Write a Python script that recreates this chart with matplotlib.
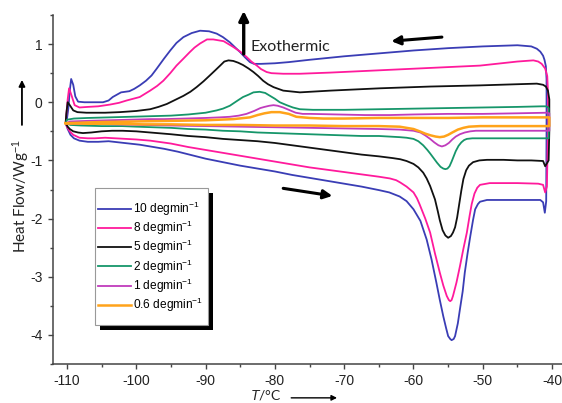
import numpy as np
import matplotlib
matplotlib.use("Agg")
import matplotlib.pyplot as plt
from matplotlib.patches import Rectangle, FancyArrowPatch

plt.rcParams['axes.unicode_minus'] = False
plt.rcParams['mathtext.fontset'] = 'custom'
plt.rcParams['mathtext.rm'] = 'Liberation Sans'
plt.rcParams['mathtext.it'] = 'Liberation Sans:italic'
plt.rcParams['font.family'] = ['Liberation Sans', 'DejaVu Sans']

# ---------------- data (T in °C, heat flow in W/g) ----------------
labels = ["10 degmin$^{-1}$", "8 degmin$^{-1}$", "5 degmin$^{-1}$",
          "2 degmin$^{-1}$", "1 degmin$^{-1}$", "0.6 degmin$^{-1}$"]
colors = ['#3a3db5', '#ff1a9c', '#111111', '#16966a', '#c03cbc', '#ffa31a']

# 10 deg/min
t_heat_10 = [-110.2, -109.9, -109.5, -109.0, -108.2, -107.0, -105.5, -104.0, -102.5, -101.0, -99.5, -98.0,
             -96.0, -94.0, -92.0, -90.0, -87.5, -85.0, -82.5, -80.0, -77.5, -75.0, -72.5, -70.0, -67.5,
             -65.0, -63.5, -62.0, -61.0, -60.0, -59.0, -58.1, -57.4, -56.7, -56.2, -55.7, -55.3, -55.0,
             -54.7, -54.5, -54.2, -54.0, -53.6, -53.3, -52.9, -52.6, -52.2, -51.8, -51.4, -51.1, -50.7,
             -50.4, -49.4, -47.0, -45.0, -43.0, -41.7, -41.3, -41.05]
hf_heat_10 = [-0.36, -0.46, -0.56, -0.62, -0.66, -0.68, -0.68, -0.67, -0.69, -0.71, -0.73, -0.76,
              -0.80, -0.85, -0.91, -0.97, -1.03, -1.09, -1.14, -1.19, -1.25, -1.30, -1.35, -1.40, -1.45,
              -1.51, -1.55, -1.62, -1.70, -1.84, -2.04, -2.36, -2.70, -3.10, -3.40, -3.68, -3.88, -4.02,
              -4.07, -4.09, -4.07, -4.02, -3.80, -3.56, -3.25, -2.93, -2.60, -2.30, -2.02, -1.84, -1.75,
              -1.71, -1.68, -1.68, -1.68, -1.68, -1.68, -1.72, -1.90]
t_cool_10 = [-40.85, -40.8, -40.8, -40.9, -41.1, -41.3, -41.7, -42.2, -43.0, -44.0, -45.0, -50.0, -55.0,
             -60.0, -65.0, -70.0, -75.0, -78.0, -80.0, -82.0, -83.0, -83.6, -84.3, -85.0, -85.8, -86.5,
             -87.5, -88.4, -89.5, -90.8, -92.0, -93.2, -94.2, -95.1, -96.0, -97.1, -97.8, -98.6, -99.5,
             -100.3, -101.0, -101.6, -102.2, -102.8, -103.4, -104.0, -104.8, -106.0, -107.5, -108.4,
             -108.8, -109.1, -109.4, -109.6, -109.8, -110.0, -110.2]
hf_cool_10 = [-1.70, -0.50, 0.40, 0.62, 0.73, 0.80, 0.87, 0.92, 0.96, 0.97, 0.98, 0.96, 0.93,
              0.89, 0.84, 0.79, 0.73, 0.69, 0.67, 0.66, 0.66, 0.69, 0.77, 0.86, 0.95, 1.03,
              1.12, 1.18, 1.22, 1.23, 1.19, 1.12, 1.02, 0.89, 0.75, 0.57, 0.46, 0.37, 0.29,
              0.23, 0.19, 0.18, 0.17, 0.13, 0.09, 0.03, 0.00, 0.00, 0.00, 0.01,
              0.10, 0.30, 0.40, 0.20, -0.10, -0.28, -0.36]

# 8 deg/min
t_heat_8 = [-110.2, -110.0, -109.6, -109.1, -108.2, -107.0, -106.0, -104.5, -103.0, -101.5, -100.0, -98.0,
            -95.0, -92.5, -90.0, -87.5, -85.0, -82.5, -80.0, -77.5, -75.0, -72.5, -70.0, -67.5, -65.0,
            -63.4, -62.5, -61.9, -61.0, -60.0, -59.5, -59.1, -58.3, -57.6, -56.9, -56.2, -55.7, -55.2,
            -54.9, -54.7, -54.5, -54.3, -53.8, -53.3, -52.8, -52.3, -51.9, -51.6, -51.2, -50.8, -50.4,
            -49.0, -48.0, -45.0, -42.0, -41.3, -41.0]
hf_heat_8 = [-0.36, -0.42, -0.50, -0.56, -0.61, -0.62, -0.62, -0.61, -0.62, -0.63, -0.64, -0.66,
             -0.71, -0.77, -0.82, -0.87, -0.92, -0.97, -1.02, -1.07, -1.12, -1.16, -1.20, -1.24, -1.28,
             -1.31, -1.34, -1.38, -1.45, -1.55, -1.65, -1.76, -2.00, -2.24, -2.60, -2.93, -3.15, -3.33,
             -3.40, -3.42, -3.40, -3.33, -3.10, -2.82, -2.52, -2.24, -1.95, -1.75, -1.57, -1.47, -1.42,
             -1.39, -1.39, -1.39, -1.40, -1.42, -1.55]
t_cool_8 = [-40.75, -40.6, -40.6, -40.7, -41.0, -41.5, -42.0, -42.7, -45.0, -50.4, -57.6, -64.8, -72.0,
            -76.4, -78.8, -80.5, -81.2, -82.0, -82.6, -83.4, -84.1, -85.0, -86.0, -87.4, -88.9, -89.8,
            -90.8, -91.6, -92.3, -93.2, -94.2, -95.1, -96.1, -97.0, -98.0, -99.5, -101.4, -102.5,
            -103.8, -105.5, -107.0, -108.2, -108.9, -109.3, -109.7, -109.9, -110.1, -110.2]
hf_cool_8 = [-1.45, -0.50, 0.20, 0.45, 0.58, 0.66, 0.70, 0.72, 0.70, 0.63, 0.59, 0.55, 0.51,
             0.49, 0.49, 0.50, 0.52, 0.57, 0.63, 0.70, 0.78, 0.87, 0.95, 1.05, 1.08, 1.08,
             1.01, 0.94, 0.86, 0.75, 0.63, 0.50, 0.37, 0.28, 0.20, 0.09, 0.03, -0.01,
             -0.04, -0.07, -0.08, -0.09, -0.05, 0.10, 0.24, 0.05, -0.22, -0.36]

# 5 deg/min
t_heat_5 = [-110.2, -109.9, -109.6, -109.1, -108.4, -107.7, -106.5, -105.0, -103.5, -102.0, -100.0, -98.0,
            -95.0, -92.5, -90.0, -87.5, -85.0, -82.5, -80.0, -77.5, -75.0, -72.5, -70.0, -67.5, -65.0,
            -63.0, -61.9, -61.0, -60.0, -59.3, -58.6, -58.1, -57.6, -56.9, -56.5, -56.2, -55.8, -55.4,
            -55.0, -54.6, -54.3, -54.0, -53.7, -53.4, -53.1, -52.8, -52.4, -52.0, -51.4, -50.5, -49.4,
            -47.0, -45.0, -43.0, -41.3, -41.0]
hf_heat_5 = [-0.36, -0.42, -0.46, -0.50, -0.52, -0.53, -0.52, -0.50, -0.49, -0.49, -0.50, -0.52,
             -0.55, -0.58, -0.60, -0.63, -0.65, -0.67, -0.70, -0.74, -0.78, -0.82, -0.86, -0.90, -0.93,
             -0.96, -0.98, -1.01, -1.06, -1.12, -1.21, -1.31, -1.44, -1.67, -1.87, -2.03, -2.20, -2.29,
             -2.33, -2.30, -2.24, -2.15, -1.98, -1.75, -1.52, -1.32, -1.17, -1.09, -1.03, -1.00, -0.99,
             -0.99, -1.00, -1.00, -1.01, -1.10]
t_cool_5 = [-40.5, -40.4, -40.4, -40.6, -40.9, -41.3, -42.2, -45.0, -50.4, -57.6, -64.8, -72.0, -76.4,
            -78.8, -80.2, -81.0, -81.7, -82.4, -83.1, -83.8, -84.6, -85.3, -86.0, -86.7, -87.3, -87.9,
            -88.6, -89.4, -90.3, -91.3, -92.2, -93.2, -94.4, -95.6, -96.8, -98.0, -100.0, -102.4,
            -104.5, -107.2, -108.5, -109.1, -109.6, -109.9, -110.1, -110.2]
hf_cool_5 = [-1.00, -0.50, 0.05, 0.20, 0.27, 0.30, 0.32, 0.31, 0.29, 0.27, 0.24, 0.20, 0.17,
             0.20, 0.26, 0.31, 0.37, 0.45, 0.52, 0.58, 0.64, 0.68, 0.71, 0.72, 0.70, 0.63,
             0.55, 0.46, 0.36, 0.26, 0.18, 0.11, 0.04, -0.03, -0.08, -0.12, -0.15, -0.17,
             -0.18, -0.18, -0.17, -0.14, -0.05, 0.00, -0.20, -0.36]

# 2 deg/min
t_heat_2 = [-110.2, -109.5, -108.0, -105.0, -102.0, -100.0, -97.5, -95.0, -92.5, -90.0, -87.5, -85.0,
            -82.5, -80.0, -77.5, -75.0, -72.5, -70.0, -67.5, -65.0, -62.0, -61.0, -60.0, -59.3, -58.6,
            -58.0, -57.6, -57.1, -56.6, -56.1, -55.7, -55.4, -55.1, -54.8, -54.5, -54.2, -53.9, -53.5,
            -53.1, -52.7, -52.3, -51.5, -50.4, -47.0, -44.0, -41.0]
hf_heat_2 = [-0.36, -0.39, -0.40, -0.41, -0.41, -0.42, -0.43, -0.44, -0.46, -0.47, -0.49, -0.50,
             -0.52, -0.53, -0.54, -0.55, -0.56, -0.57, -0.58, -0.58, -0.60, -0.61, -0.63, -0.67, -0.74,
             -0.82, -0.88, -0.96, -1.04, -1.11, -1.14, -1.15, -1.14, -1.10, -1.02, -0.93, -0.84, -0.75,
             -0.69, -0.65, -0.63, -0.62, -0.62, -0.62, -0.62, -0.62]
t_cool_2 = [-40.5, -40.5, -40.8, -41.5, -45.0, -50.0, -55.0, -60.0, -65.0, -70.0, -74.5, -76.4, -77.4,
            -78.3, -79.3, -80.0, -80.7, -81.4, -82.2, -83.1, -83.8, -84.6, -85.5, -86.5, -87.5, -88.4,
            -90.0, -92.5, -95.0, -98.0, -101.0, -104.0, -107.0, -109.0, -110.0, -110.2]
hf_cool_2 = [-0.62, -0.10, -0.07, -0.07, -0.08, -0.09, -0.10, -0.11, -0.12, -0.13, -0.13, -0.12, -0.09,
             -0.05, 0.00, 0.06, 0.11, 0.16, 0.18, 0.17, 0.13, 0.09, 0.02, -0.06, -0.11, -0.14,
             -0.18, -0.21, -0.23, -0.24, -0.25, -0.26, -0.27, -0.28, -0.30, -0.36]

# 1 deg/min
t_heat_1 = [-110.2, -109.5, -107.0, -103.0, -99.0, -95.0, -90.0, -85.0, -80.0, -75.0, -70.0, -65.0, -62.0,
            -60.0, -59.0, -58.3, -57.6, -57.0, -56.4, -55.9, -55.4, -54.9, -54.4, -53.9, -53.3, -52.6,
            -51.8, -51.0, -48.0, -44.0, -41.0]
hf_heat_1 = [-0.36, -0.37, -0.37, -0.38, -0.39, -0.40, -0.41, -0.42, -0.43, -0.44, -0.45, -0.46, -0.47,
             -0.49, -0.52, -0.57, -0.63, -0.69, -0.74, -0.76, -0.74, -0.70, -0.64, -0.59, -0.55, -0.52,
             -0.50, -0.49, -0.49, -0.49, -0.49]
t_cool_1 = [-40.4, -40.4, -40.8, -45.0, -50.0, -55.0, -60.0, -63.4, -67.0, -71.0, -74.9, -76.0, -77.0,
            -77.8, -78.8, -79.6, -80.2, -80.8, -81.5, -82.1, -83.0, -84.1, -85.2, -86.5, -88.0, -90.0,
            -93.0, -96.0, -98.0, -101.0, -104.0, -107.0, -109.5, -110.2]
hf_cool_1 = [-0.49, -0.19, -0.18, -0.19, -0.20, -0.20, -0.21, -0.22, -0.22, -0.21, -0.20, -0.20, -0.18,
             -0.14, -0.09, -0.06, -0.05, -0.06, -0.08, -0.10, -0.15, -0.20, -0.23, -0.25, -0.26, -0.27,
             -0.28, -0.29, -0.29, -0.30, -0.31, -0.32, -0.33, -0.36]

# 0.6 deg/min
t_heat_06 = [-110.2, -107.0, -103.0, -99.0, -95.0, -90.0, -85.0, -80.0, -75.0, -70.0, -65.0, -62.0,
             -60.0, -59.1, -58.3, -57.5, -56.8, -56.2, -55.6, -55.0, -54.4, -53.6, -52.8, -52.0, -50.4,
             -47.0, -43.0, -40.4]
hf_heat_06 = [-0.36, -0.37, -0.37, -0.38, -0.38, -0.39, -0.39, -0.40, -0.40, -0.41, -0.41, -0.42,
              -0.46, -0.50, -0.54, -0.57, -0.59, -0.60, -0.59, -0.56, -0.52, -0.47, -0.44, -0.42, -0.41,
              -0.41, -0.41, -0.41]
t_cool_06 = [-40.4, -40.4, -45.0, -50.0, -55.0, -60.0, -65.0, -70.0, -73.0, -75.0, -76.9, -78.0, -79.3,
             -80.5, -81.5, -82.5, -83.6, -86.0, -90.0, -95.0, -100.0, -105.0, -110.2]
hf_cool_06 = [-0.41, -0.26, -0.26, -0.26, -0.27, -0.27, -0.27, -0.28, -0.28, -0.27, -0.25, -0.20, -0.17,
              -0.17, -0.19, -0.22, -0.26, -0.29, -0.31, -0.32, -0.33, -0.34, -0.36]

series = [
    (t_heat_10, hf_heat_10, t_cool_10, hf_cool_10),
    (t_heat_8, hf_heat_8, t_cool_8, hf_cool_8),
    (t_heat_5, hf_heat_5, t_cool_5, hf_cool_5),
    (t_heat_2, hf_heat_2, t_cool_2, hf_cool_2),
    (t_heat_1, hf_heat_1, t_cool_1, hf_cool_1),
    (t_heat_06, hf_heat_06, t_cool_06, hf_cool_06),
]
x_ticks = [-110, -100, -90, -80, -70, -60, -50, -40]
y_ticks = [-4, -3, -2, -1, 0, 1]

# ---------------- figure ----------------
fig = plt.figure(figsize=(5.62, 4.03), dpi=100)
ax = fig.add_axes([53 / 562, 39 / 403, 509 / 562, 349 / 403])

widths = [1.3, 1.3, 1.3, 1.3, 1.3, 1.8]
for (th, hh, tc, hc), c, lab, lw in zip(series, colors, labels, widths):
    xs = np.concatenate([th, tc])
    ys = np.concatenate([hh, hc])
    ax.plot(xs, ys, color=c, lw=lw, label=lab, solid_joinstyle='round')

ax.set_xlim(-112.02, -38.57)
ax.set_ylim(-4.5, 1.5)
ax.set_xticks(x_ticks)
ax.set_xticklabels([str(v) for v in x_ticks])
ax.set_yticks(y_ticks)
ax.set_yticklabels([str(v) for v in y_ticks])
ax.set_xticks(np.arange(-110, -38, 5), minor=True)
ax.set_yticks(np.arange(-4.5, 1.51, 0.5), minor=True)

for s in ['top', 'right']:
    ax.spines[s].set_visible(False)
for s in ['left', 'bottom']:
    ax.spines[s].set_color('#444444')
    ax.spines[s].set_linewidth(1.1)
ax.tick_params(which='major', direction='out', length=3.4, width=1.0, color='#444444',
               labelsize=10, labelcolor='#222222')
ax.tick_params(which='minor', direction='out', length=2.2, width=1.0, color='#444444')
ax.tick_params(axis='x', which='major', pad=4)
ax.tick_params(axis='y', which='major', pad=4)


def arrow(p0, p1, transform, lw, scale):
    a = FancyArrowPatch(p0, p1, transform=transform, arrowstyle='-|>', lw=lw,
                        color='k', mutation_scale=scale, clip_on=False,
                        shrinkA=0, shrinkB=0, zorder=4)
    ax.add_patch(a)


# labels
ax.text(-0.063, 0.481, "Heat Flow/Wg$^{-1}$", transform=ax.transAxes, rotation=90,
        ha='center', va='center', fontsize=11, family=['Lato', 'DejaVu Sans'], color='#222222')
arrow((-0.061, 0.685), (-0.061, 0.814), ax.transAxes, 1.3, 9)
ax.text(0.418, -0.088, "$T$/°C", transform=ax.transAxes, ha='center', va='center',
        fontsize=10, family=['Lato', 'DejaVu Sans'], color='#222222')
arrow((0.468, -0.097), (0.558, -0.097), ax.transAxes, 1.0, 8)

# Exothermic arrow and text
arrow((-84.5, 0.83), (-84.5, 1.57), ax.transData, 2.4, 14)
ax.text(-83.5, 0.95, "Exothermic", ha='left', va='center', fontsize=11.5,
        family=['Lato', 'DejaVu Sans'], color='#222222')
# direction arrows
arrow((-55.9, 1.12), (-63.2, 1.05), ax.transData, 2.2, 13)
arrow((-78.8, -1.48), (-71.7, -1.61), ax.transData, 2.2, 13)

# legend: drawn frame + black shadow, entries without own frame
ax.add_patch(Rectangle((0.0923, 0.0974), 0.2222, 0.3926, transform=ax.transAxes,
                       facecolor='black', edgecolor='none', zorder=5, clip_on=False))
ax.add_patch(Rectangle((0.0825, 0.1117), 0.2222, 0.3926, transform=ax.transAxes,
                       facecolor='white', edgecolor='#999999', lw=0.8, zorder=5.2, clip_on=False))
leg = ax.legend(loc='upper left', bbox_to_anchor=(0.0884, 0.470), borderaxespad=0,
                fontsize=8.6, handlelength=2.75, handletextpad=0.15, borderpad=0,
                labelspacing=0.08, frameon=False)
leg.set_zorder(6)

fig.savefig('out.png', dpi=100)
